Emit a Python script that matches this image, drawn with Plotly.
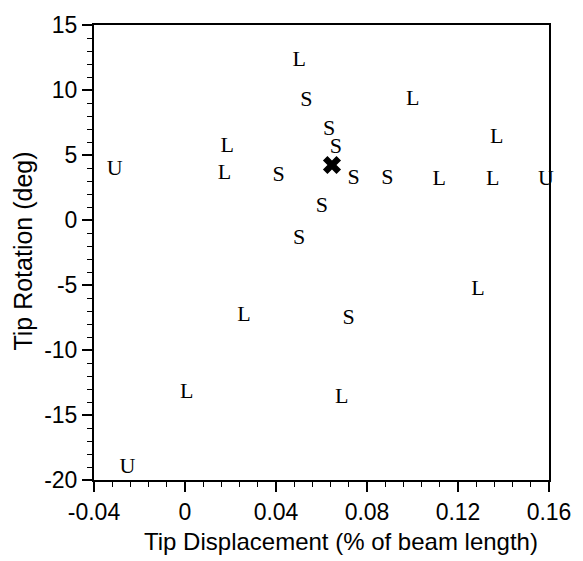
import plotly.graph_objects as go

# Data
L_x = [0.0186, 0.0173, 0.0502, 0.1118, 0.1353, 0.1370, 0.1001, 0.1288, 0.0689, 0.0259, 0.0008]
L_y = [5.68, 3.54, 12.25, 3.08, 3.08, 6.37, 9.27, -5.32, -13.65, -7.38, -13.27]
S_x = [0.0411, 0.0533, 0.0633, 0.0663, 0.0741, 0.0889, 0.0602, 0.0502, 0.0719]
S_y = [3.46, 9.19, 6.98, 5.60, 3.16, 3.16, 1.02, -1.42, -7.61]
U_x = [-0.0309, 0.1587, -0.0253]
U_y = [3.85, 3.08, -19.0]
X_x = [0.0646]
X_y = [4.23]

x_ticks = [-0.04, 0, 0.04, 0.08, 0.12, 0.16]
x_ticktext = ["-0.04", "0", "0.04", "0.08", "0.12", "0.16"]
y_ticks = [-20, -15, -10, -5, 0, 5, 10, 15]
y_ticktext = ["-20", "-15", "-10", "-5", "0", "5", "10", "15"]

x_title = "Tip Displacement (% of beam length)"
y_title = "Tip Rotation (deg)"

serif = "Liberation Serif"
sans = "Liberation Sans"

fig = go.Figure()
for xs, ys, letter in [(L_x, L_y, "L"), (S_x, S_y, "S"), (U_x, U_y, "U")]:
    fig.add_trace(go.Scatter(
        x=xs, y=ys, mode="text", text=[letter] * len(xs),
        textposition="middle center",
        textfont=dict(family=serif, size=22, color="black"),
        showlegend=False, hoverinfo="skip", cliponaxis=False,
    ))
fig.add_trace(go.Scatter(
    x=X_x, y=X_y, mode="markers",
    marker=dict(symbol="x", size=16, color="black"),
    showlegend=False,
))

axis_common = dict(
    showgrid=False, zeroline=False,
    showline=True, linecolor="black", linewidth=2, mirror=True,
    ticks="outside", ticklen=10, tickwidth=1.5, tickcolor="black",
    tickfont=dict(family=sans, size=23, color="black"),
)

fig.update_xaxes(
    range=[-0.04, 0.16], tickvals=x_ticks, ticktext=x_ticktext,
    minor=dict(tickvals=[round(-0.04 + 0.008 * i, 3) for i in range(26)],
               ticklen=5, tickwidth=1, tickcolor="black", ticks="outside"),
    **axis_common,
)
fig.update_yaxes(
    range=[-20, 15], tickvals=y_ticks, ticktext=y_ticktext,
    minor=dict(dtick=1, ticklen=5, tickwidth=1, tickcolor="black", ticks="outside"),
    **axis_common,
)

fig.add_annotation(
    text=x_title, xref="paper", yref="paper", x=0.543, y=0,
    xanchor="center", yanchor="middle", yshift=-61, showarrow=False,
    font=dict(family=sans, size=24, color="black"),
)
fig.add_annotation(
    text=y_title, xref="paper", yref="paper", x=0, y=0.502,
    xanchor="center", yanchor="middle", xshift=-71, textangle=-90, showarrow=False,
    font=dict(family=sans, size=25, color="black"),
)

fig.update_layout(
    width=583, height=561,
    margin=dict(l=94, r=27, t=22, b=81),
    paper_bgcolor="white", plot_bgcolor="white",
)

fig.write_html("out.html")
